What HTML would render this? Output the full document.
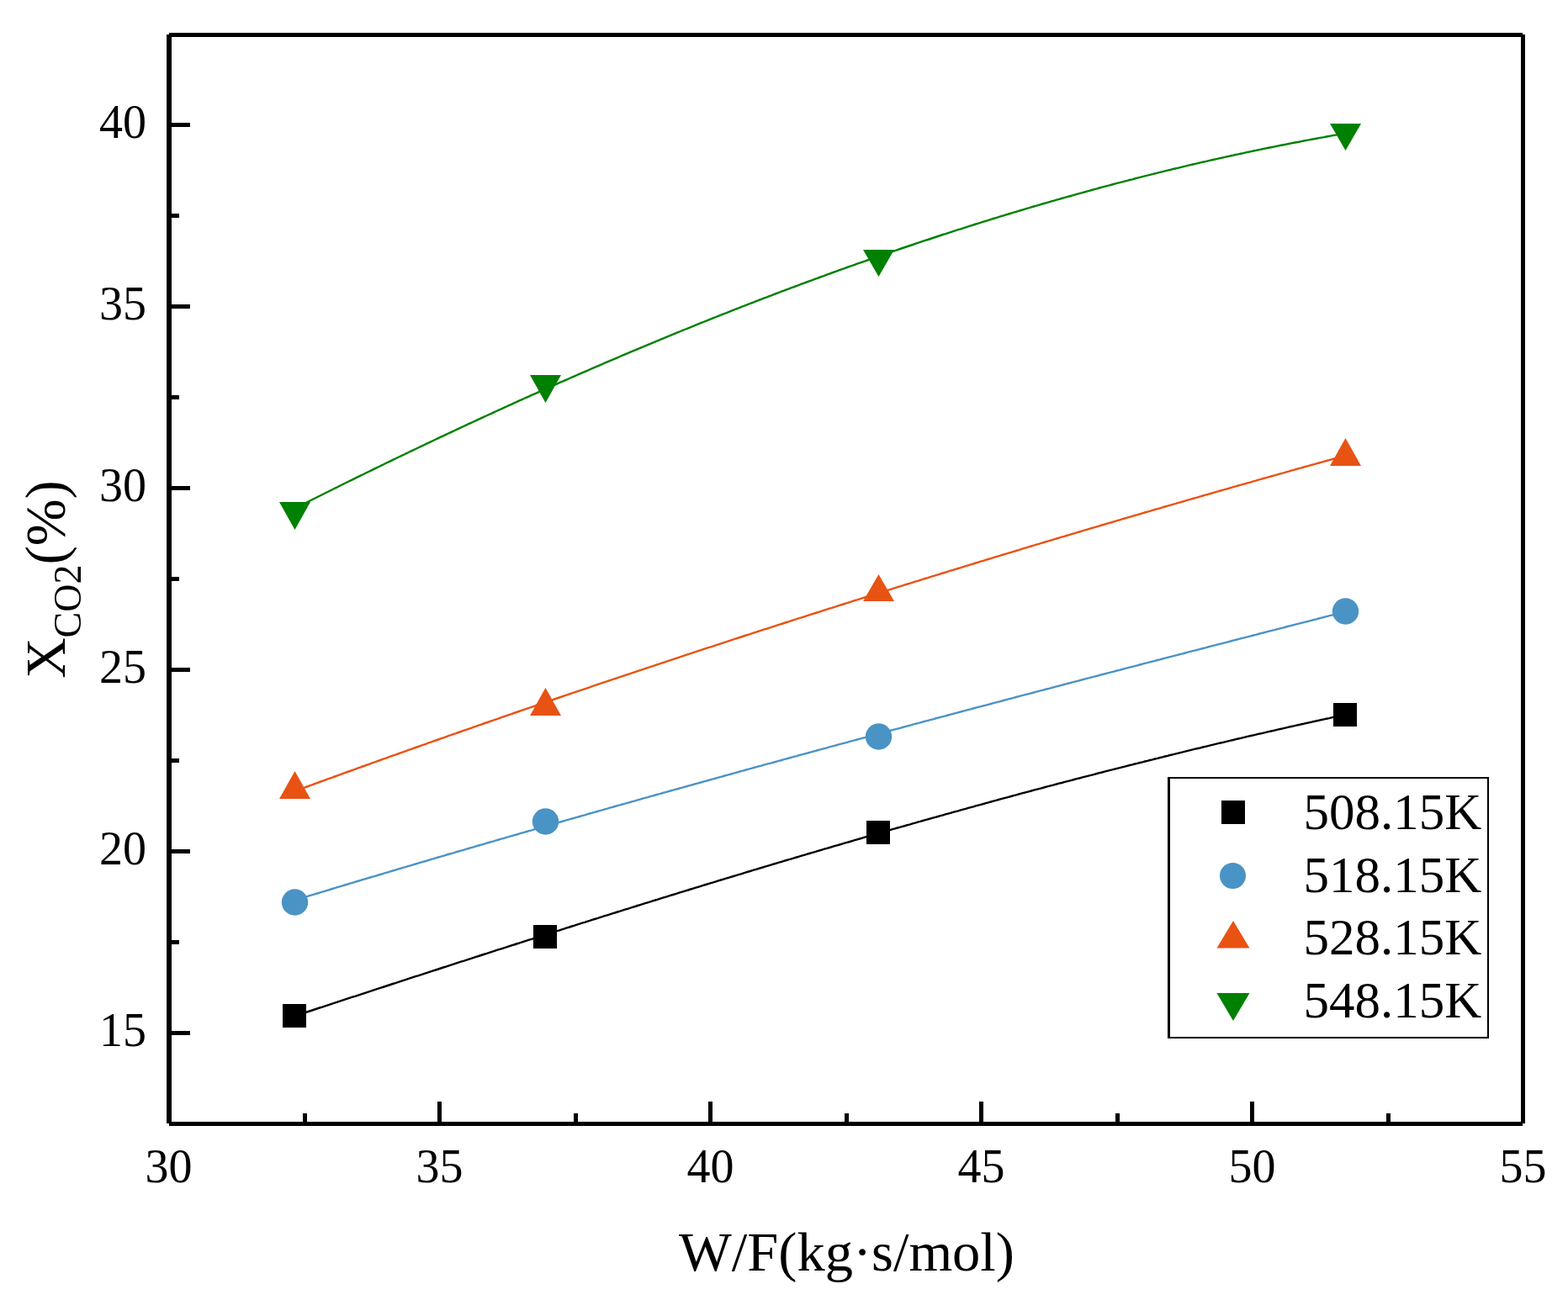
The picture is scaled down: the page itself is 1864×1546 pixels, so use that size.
<!DOCTYPE html>
<html><head><meta charset="utf-8"><title>XCO2 vs W/F</title>
<style>html,body{margin:0;padding:0;background:#fff;}svg{display:block;}
text{font-family:"Liberation Serif", "Times New Roman", serif;fill:#000;}</style></head>
<body>
<svg width="1864" height="1546" viewBox="0 0 1864 1546">
<rect x="0" y="0" width="1864" height="1546" fill="#fff"/>
<g fill="none" stroke-width="2.4" stroke-linejoin="round" stroke-linecap="round">
<path d="M350.0,1208.4 L353.0,1207.4 L356.0,1206.4 L359.0,1205.5 L362.0,1204.5 L365.0,1203.5 L368.0,1202.5 L371.0,1201.5 L374.0,1200.5 L377.0,1199.5 L380.0,1198.5 L383.0,1197.6 L386.0,1196.6 L389.0,1195.6 L392.0,1194.6 L395.0,1193.6 L398.0,1192.6 L401.0,1191.6 L404.0,1190.7 L407.0,1189.7 L410.0,1188.7 L413.0,1187.7 L416.0,1186.7 L419.0,1185.7 L422.0,1184.8 L425.0,1183.8 L428.0,1182.8 L431.0,1181.8 L434.0,1180.8 L437.0,1179.8 L440.0,1178.9 L443.0,1177.9 L446.0,1176.9 L449.0,1175.9 L452.0,1174.9 L455.0,1174.0 L458.0,1173.0 L461.0,1172.0 L464.0,1171.0 L467.0,1170.0 L470.0,1169.1 L473.0,1168.1 L476.0,1167.1 L479.0,1166.1 L482.0,1165.2 L485.0,1164.2 L488.0,1163.2 L491.0,1162.2 L494.0,1161.2 L497.0,1160.3 L500.0,1159.3 L503.0,1158.3 L506.0,1157.3 L509.0,1156.4 L512.0,1155.4 L515.0,1154.4 L518.0,1153.5 L521.0,1152.5 L524.0,1151.5 L527.0,1150.5 L530.0,1149.6 L533.0,1148.6 L536.0,1147.6 L539.0,1146.7 L542.0,1145.7 L545.0,1144.7 L548.0,1143.7 L551.0,1142.8 L554.0,1141.8 L557.0,1140.8 L560.0,1139.9 L563.0,1138.9 L566.0,1137.9 L569.0,1137.0 L572.0,1136.0 L575.0,1135.0 L578.0,1134.1 L581.0,1133.1 L584.0,1132.1 L587.0,1131.2 L590.0,1130.2 L593.0,1129.2 L596.0,1128.3 L599.0,1127.3 L602.0,1126.4 L605.0,1125.4 L608.0,1124.4 L611.0,1123.5 L614.0,1122.5 L617.0,1121.6 L620.0,1120.6 L623.0,1119.6 L626.0,1118.7 L629.0,1117.7 L632.0,1116.8 L635.0,1115.8 L638.0,1114.9 L641.0,1113.9 L644.0,1112.9 L647.0,1112.0 L650.0,1111.0 L653.0,1110.1 L656.0,1109.1 L659.0,1108.2 L662.0,1107.2 L665.0,1106.3 L668.0,1105.3 L671.0,1104.4 L674.0,1103.4 L677.0,1102.5 L680.0,1101.5 L683.0,1100.6 L686.0,1099.6 L689.0,1098.7 L692.0,1097.7 L695.0,1096.8 L698.0,1095.8 L701.0,1094.9 L704.0,1093.9 L707.0,1093.0 L710.0,1092.1 L713.0,1091.1 L716.0,1090.2 L719.0,1089.2 L722.0,1088.3 L725.0,1087.3 L728.0,1086.4 L731.0,1085.5 L734.0,1084.5 L737.0,1083.6 L740.0,1082.6 L743.0,1081.7 L746.0,1080.8 L749.0,1079.8 L752.0,1078.9 L755.0,1078.0 L758.0,1077.0 L761.0,1076.1 L764.0,1075.2 L767.0,1074.2 L770.0,1073.3 L773.0,1072.4 L776.0,1071.4 L779.0,1070.5 L782.0,1069.6 L785.0,1068.6 L788.0,1067.7 L791.0,1066.8 L794.0,1065.9 L797.0,1064.9 L800.0,1064.0 L803.0,1063.1 L806.0,1062.2 L809.0,1061.2 L812.0,1060.3 L815.0,1059.4 L818.0,1058.5 L821.0,1057.5 L824.0,1056.6 L827.0,1055.7 L830.0,1054.8 L833.0,1053.9 L836.0,1052.9 L839.0,1052.0 L842.0,1051.1 L845.0,1050.2 L848.0,1049.3 L851.0,1048.4 L854.0,1047.4 L857.0,1046.5 L860.0,1045.6 L863.0,1044.7 L866.0,1043.8 L869.0,1042.9 L872.0,1042.0 L875.0,1041.1 L878.0,1040.2 L881.0,1039.3 L884.0,1038.3 L887.0,1037.4 L890.0,1036.5 L893.0,1035.6 L896.0,1034.7 L899.0,1033.8 L902.0,1032.9 L905.0,1032.0 L908.0,1031.1 L911.0,1030.2 L914.0,1029.3 L917.0,1028.4 L920.0,1027.5 L923.0,1026.6 L926.0,1025.7 L929.0,1024.8 L932.0,1023.9 L935.0,1023.0 L938.0,1022.2 L941.0,1021.3 L944.0,1020.4 L947.0,1019.5 L950.0,1018.6 L953.0,1017.7 L956.0,1016.8 L959.0,1015.9 L962.0,1015.0 L965.0,1014.2 L968.0,1013.3 L971.0,1012.4 L974.0,1011.5 L977.0,1010.6 L980.0,1009.7 L983.0,1008.9 L986.0,1008.0 L989.0,1007.1 L992.0,1006.2 L995.0,1005.3 L998.0,1004.5 L1001.0,1003.6 L1004.0,1002.7 L1007.0,1001.8 L1010.0,1001.0 L1013.0,1000.1 L1016.0,999.2 L1019.0,998.3 L1022.0,997.5 L1025.0,996.6 L1028.0,995.7 L1031.0,994.9 L1034.0,994.0 L1037.0,993.1 L1040.0,992.3 L1043.0,991.4 L1046.0,990.5 L1049.0,989.7 L1052.0,988.8 L1055.0,988.0 L1058.0,987.1 L1061.0,986.2 L1064.0,985.4 L1067.0,984.5 L1070.0,983.7 L1073.0,982.8 L1076.0,982.0 L1079.0,981.1 L1082.0,980.3 L1085.0,979.4 L1088.0,978.6 L1091.0,977.7 L1094.0,976.9 L1097.0,976.0 L1100.0,975.2 L1103.0,974.3 L1106.0,973.5 L1109.0,972.6 L1112.0,971.8 L1115.0,971.0 L1118.0,970.1 L1121.0,969.3 L1124.0,968.4 L1127.0,967.6 L1130.0,966.8 L1133.0,965.9 L1136.0,965.1 L1139.0,964.3 L1142.0,963.4 L1145.0,962.6 L1148.0,961.8 L1151.0,960.9 L1154.0,960.1 L1157.0,959.3 L1160.0,958.4 L1163.0,957.6 L1166.0,956.8 L1169.0,956.0 L1172.0,955.1 L1175.0,954.3 L1178.0,953.5 L1181.0,952.7 L1184.0,951.9 L1187.0,951.0 L1190.0,950.2 L1193.0,949.4 L1196.0,948.6 L1199.0,947.8 L1202.0,947.0 L1205.0,946.2 L1208.0,945.4 L1211.0,944.5 L1214.0,943.7 L1217.0,942.9 L1220.0,942.1 L1223.0,941.3 L1226.0,940.5 L1229.0,939.7 L1232.0,938.9 L1235.0,938.1 L1238.0,937.3 L1241.0,936.5 L1244.0,935.7 L1247.0,934.9 L1250.0,934.1 L1253.0,933.3 L1256.0,932.5 L1259.0,931.7 L1262.0,931.0 L1265.0,930.2 L1268.0,929.4 L1271.0,928.6 L1274.0,927.8 L1277.0,927.0 L1280.0,926.2 L1283.0,925.5 L1286.0,924.7 L1289.0,923.9 L1292.0,923.1 L1295.0,922.3 L1298.0,921.6 L1301.0,920.8 L1304.0,920.0 L1307.0,919.2 L1310.0,918.5 L1313.0,917.7 L1316.0,916.9 L1319.0,916.1 L1322.0,915.4 L1325.0,914.6 L1328.0,913.8 L1331.0,913.1 L1334.0,912.3 L1337.0,911.6 L1340.0,910.8 L1343.0,910.0 L1346.0,909.3 L1349.0,908.5 L1352.0,907.8 L1355.0,907.0 L1358.0,906.3 L1361.0,905.5 L1364.0,904.8 L1367.0,904.0 L1370.0,903.3 L1373.0,902.5 L1376.0,901.8 L1379.0,901.0 L1382.0,900.3 L1385.0,899.5 L1388.0,898.8 L1391.0,898.0 L1394.0,897.3 L1397.0,896.6 L1400.0,895.8 L1403.0,895.1 L1406.0,894.4 L1409.0,893.6 L1412.0,892.9 L1415.0,892.2 L1418.0,891.4 L1421.0,890.7 L1424.0,890.0 L1427.0,889.3 L1430.0,888.5 L1433.0,887.8 L1436.0,887.1 L1439.0,886.4 L1442.0,885.7 L1445.0,884.9 L1448.0,884.2 L1451.0,883.5 L1454.0,882.8 L1457.0,882.1 L1460.0,881.4 L1463.0,880.7 L1466.0,880.0 L1469.0,879.2 L1472.0,878.5 L1475.0,877.8 L1478.0,877.1 L1481.0,876.4 L1484.0,875.7 L1487.0,875.0 L1490.0,874.3 L1493.0,873.6 L1496.0,872.9 L1499.0,872.3 L1502.0,871.6 L1505.0,870.9 L1508.0,870.2 L1511.0,869.5 L1514.0,868.8 L1517.0,868.1 L1520.0,867.4 L1523.0,866.8 L1526.0,866.1 L1529.0,865.4 L1532.0,864.7 L1535.0,864.0 L1538.0,863.4 L1541.0,862.7 L1544.0,862.0 L1547.0,861.3 L1550.0,860.7 L1553.0,860.0 L1556.0,859.3 L1559.0,858.7 L1562.0,858.0 L1565.0,857.3 L1568.0,856.7 L1571.0,856.0 L1574.0,855.4 L1577.0,854.7 L1580.0,854.1 L1583.0,853.4 L1586.0,852.7 L1589.0,852.1 L1592.0,851.4 L1595.0,850.8 L1598.0,850.1 L1599.0,849.9" stroke="#000"/>
<path d="M350.0,1070.7 L353.0,1069.8 L356.0,1068.9 L359.0,1067.9 L362.0,1067.0 L365.0,1066.1 L368.0,1065.2 L371.0,1064.3 L374.0,1063.4 L377.0,1062.5 L380.0,1061.6 L383.0,1060.7 L386.0,1059.8 L389.0,1058.9 L392.0,1058.0 L395.0,1057.0 L398.0,1056.1 L401.0,1055.2 L404.0,1054.3 L407.0,1053.4 L410.0,1052.5 L413.0,1051.6 L416.0,1050.7 L419.0,1049.8 L422.0,1048.9 L425.0,1048.0 L428.0,1047.1 L431.0,1046.2 L434.0,1045.3 L437.0,1044.4 L440.0,1043.5 L443.0,1042.6 L446.0,1041.8 L449.0,1040.9 L452.0,1040.0 L455.0,1039.1 L458.0,1038.2 L461.0,1037.3 L464.0,1036.4 L467.0,1035.5 L470.0,1034.6 L473.0,1033.7 L476.0,1032.8 L479.0,1031.9 L482.0,1031.1 L485.0,1030.2 L488.0,1029.3 L491.0,1028.4 L494.0,1027.5 L497.0,1026.6 L500.0,1025.7 L503.0,1024.8 L506.0,1024.0 L509.0,1023.1 L512.0,1022.2 L515.0,1021.3 L518.0,1020.4 L521.0,1019.5 L524.0,1018.7 L527.0,1017.8 L530.0,1016.9 L533.0,1016.0 L536.0,1015.1 L539.0,1014.3 L542.0,1013.4 L545.0,1012.5 L548.0,1011.6 L551.0,1010.8 L554.0,1009.9 L557.0,1009.0 L560.0,1008.1 L563.0,1007.3 L566.0,1006.4 L569.0,1005.5 L572.0,1004.6 L575.0,1003.8 L578.0,1002.9 L581.0,1002.0 L584.0,1001.1 L587.0,1000.3 L590.0,999.4 L593.0,998.5 L596.0,997.7 L599.0,996.8 L602.0,995.9 L605.0,995.1 L608.0,994.2 L611.0,993.3 L614.0,992.5 L617.0,991.6 L620.0,990.7 L623.0,989.9 L626.0,989.0 L629.0,988.1 L632.0,987.3 L635.0,986.4 L638.0,985.5 L641.0,984.7 L644.0,983.8 L647.0,983.0 L650.0,982.1 L653.0,981.2 L656.0,980.4 L659.0,979.5 L662.0,978.7 L665.0,977.8 L668.0,977.0 L671.0,976.1 L674.0,975.2 L677.0,974.4 L680.0,973.5 L683.0,972.7 L686.0,971.8 L689.0,971.0 L692.0,970.1 L695.0,969.3 L698.0,968.4 L701.0,967.5 L704.0,966.7 L707.0,965.8 L710.0,965.0 L713.0,964.1 L716.0,963.3 L719.0,962.4 L722.0,961.6 L725.0,960.7 L728.0,959.9 L731.0,959.0 L734.0,958.2 L737.0,957.4 L740.0,956.5 L743.0,955.7 L746.0,954.8 L749.0,954.0 L752.0,953.1 L755.0,952.3 L758.0,951.4 L761.0,950.6 L764.0,949.7 L767.0,948.9 L770.0,948.1 L773.0,947.2 L776.0,946.4 L779.0,945.5 L782.0,944.7 L785.0,943.9 L788.0,943.0 L791.0,942.2 L794.0,941.3 L797.0,940.5 L800.0,939.7 L803.0,938.8 L806.0,938.0 L809.0,937.1 L812.0,936.3 L815.0,935.5 L818.0,934.6 L821.0,933.8 L824.0,933.0 L827.0,932.1 L830.0,931.3 L833.0,930.5 L836.0,929.6 L839.0,928.8 L842.0,928.0 L845.0,927.1 L848.0,926.3 L851.0,925.5 L854.0,924.6 L857.0,923.8 L860.0,923.0 L863.0,922.1 L866.0,921.3 L869.0,920.5 L872.0,919.7 L875.0,918.8 L878.0,918.0 L881.0,917.2 L884.0,916.4 L887.0,915.5 L890.0,914.7 L893.0,913.9 L896.0,913.0 L899.0,912.2 L902.0,911.4 L905.0,910.6 L908.0,909.7 L911.0,908.9 L914.0,908.1 L917.0,907.3 L920.0,906.5 L923.0,905.6 L926.0,904.8 L929.0,904.0 L932.0,903.2 L935.0,902.3 L938.0,901.5 L941.0,900.7 L944.0,899.9 L947.0,899.1 L950.0,898.2 L953.0,897.4 L956.0,896.6 L959.0,895.8 L962.0,895.0 L965.0,894.2 L968.0,893.3 L971.0,892.5 L974.0,891.7 L977.0,890.9 L980.0,890.1 L983.0,889.3 L986.0,888.4 L989.0,887.6 L992.0,886.8 L995.0,886.0 L998.0,885.2 L1001.0,884.4 L1004.0,883.6 L1007.0,882.8 L1010.0,881.9 L1013.0,881.1 L1016.0,880.3 L1019.0,879.5 L1022.0,878.7 L1025.0,877.9 L1028.0,877.1 L1031.0,876.3 L1034.0,875.5 L1037.0,874.6 L1040.0,873.8 L1043.0,873.0 L1046.0,872.2 L1049.0,871.4 L1052.0,870.6 L1055.0,869.8 L1058.0,869.0 L1061.0,868.2 L1064.0,867.4 L1067.0,866.6 L1070.0,865.8 L1073.0,865.0 L1076.0,864.2 L1079.0,863.4 L1082.0,862.6 L1085.0,861.7 L1088.0,860.9 L1091.0,860.1 L1094.0,859.3 L1097.0,858.5 L1100.0,857.7 L1103.0,856.9 L1106.0,856.1 L1109.0,855.3 L1112.0,854.5 L1115.0,853.7 L1118.0,852.9 L1121.0,852.1 L1124.0,851.3 L1127.0,850.5 L1130.0,849.7 L1133.0,848.9 L1136.0,848.1 L1139.0,847.3 L1142.0,846.5 L1145.0,845.7 L1148.0,844.9 L1151.0,844.1 L1154.0,843.3 L1157.0,842.5 L1160.0,841.7 L1163.0,840.9 L1166.0,840.2 L1169.0,839.4 L1172.0,838.6 L1175.0,837.8 L1178.0,837.0 L1181.0,836.2 L1184.0,835.4 L1187.0,834.6 L1190.0,833.8 L1193.0,833.0 L1196.0,832.2 L1199.0,831.4 L1202.0,830.6 L1205.0,829.8 L1208.0,829.0 L1211.0,828.2 L1214.0,827.4 L1217.0,826.7 L1220.0,825.9 L1223.0,825.1 L1226.0,824.3 L1229.0,823.5 L1232.0,822.7 L1235.0,821.9 L1238.0,821.1 L1241.0,820.3 L1244.0,819.5 L1247.0,818.8 L1250.0,818.0 L1253.0,817.2 L1256.0,816.4 L1259.0,815.6 L1262.0,814.8 L1265.0,814.0 L1268.0,813.2 L1271.0,812.5 L1274.0,811.7 L1277.0,810.9 L1280.0,810.1 L1283.0,809.3 L1286.0,808.5 L1289.0,807.7 L1292.0,806.9 L1295.0,806.2 L1298.0,805.4 L1301.0,804.6 L1304.0,803.8 L1307.0,803.0 L1310.0,802.2 L1313.0,801.5 L1316.0,800.7 L1319.0,799.9 L1322.0,799.1 L1325.0,798.3 L1328.0,797.5 L1331.0,796.8 L1334.0,796.0 L1337.0,795.2 L1340.0,794.4 L1343.0,793.6 L1346.0,792.8 L1349.0,792.1 L1352.0,791.3 L1355.0,790.5 L1358.0,789.7 L1361.0,788.9 L1364.0,788.2 L1367.0,787.4 L1370.0,786.6 L1373.0,785.8 L1376.0,785.0 L1379.0,784.3 L1382.0,783.5 L1385.0,782.7 L1388.0,781.9 L1391.0,781.1 L1394.0,780.4 L1397.0,779.6 L1400.0,778.8 L1403.0,778.0 L1406.0,777.3 L1409.0,776.5 L1412.0,775.7 L1415.0,774.9 L1418.0,774.1 L1421.0,773.4 L1424.0,772.6 L1427.0,771.8 L1430.0,771.0 L1433.0,770.3 L1436.0,769.5 L1439.0,768.7 L1442.0,767.9 L1445.0,767.2 L1448.0,766.4 L1451.0,765.6 L1454.0,764.8 L1457.0,764.1 L1460.0,763.3 L1463.0,762.5 L1466.0,761.7 L1469.0,761.0 L1472.0,760.2 L1475.0,759.4 L1478.0,758.6 L1481.0,757.9 L1484.0,757.1 L1487.0,756.3 L1490.0,755.5 L1493.0,754.8 L1496.0,754.0 L1499.0,753.2 L1502.0,752.5 L1505.0,751.7 L1508.0,750.9 L1511.0,750.1 L1514.0,749.4 L1517.0,748.6 L1520.0,747.8 L1523.0,747.1 L1526.0,746.3 L1529.0,745.5 L1532.0,744.7 L1535.0,744.0 L1538.0,743.2 L1541.0,742.4 L1544.0,741.7 L1547.0,740.9 L1550.0,740.1 L1553.0,739.3 L1556.0,738.6 L1559.0,737.8 L1562.0,737.0 L1565.0,736.3 L1568.0,735.5 L1571.0,734.7 L1574.0,734.0 L1577.0,733.2 L1580.0,732.4 L1583.0,731.7 L1586.0,730.9 L1589.0,730.1 L1592.0,729.3 L1595.0,728.6 L1598.0,727.8 L1599.0,727.6" stroke="#4a93c5"/>
<path d="M350.0,941.0 L353.0,939.9 L356.0,938.8 L359.0,937.7 L362.0,936.6 L365.0,935.5 L368.0,934.4 L371.0,933.3 L374.0,932.2 L377.0,931.1 L380.0,930.0 L383.0,928.9 L386.0,927.8 L389.0,926.7 L392.0,925.6 L395.0,924.6 L398.0,923.5 L401.0,922.4 L404.0,921.3 L407.0,920.2 L410.0,919.1 L413.0,918.0 L416.0,917.0 L419.0,915.9 L422.0,914.8 L425.0,913.7 L428.0,912.6 L431.0,911.5 L434.0,910.5 L437.0,909.4 L440.0,908.3 L443.0,907.2 L446.0,906.2 L449.0,905.1 L452.0,904.0 L455.0,902.9 L458.0,901.9 L461.0,900.8 L464.0,899.7 L467.0,898.6 L470.0,897.6 L473.0,896.5 L476.0,895.4 L479.0,894.4 L482.0,893.3 L485.0,892.2 L488.0,891.2 L491.0,890.1 L494.0,889.0 L497.0,888.0 L500.0,886.9 L503.0,885.8 L506.0,884.8 L509.0,883.7 L512.0,882.7 L515.0,881.6 L518.0,880.5 L521.0,879.5 L524.0,878.4 L527.0,877.4 L530.0,876.3 L533.0,875.2 L536.0,874.2 L539.0,873.1 L542.0,872.1 L545.0,871.0 L548.0,870.0 L551.0,868.9 L554.0,867.9 L557.0,866.8 L560.0,865.8 L563.0,864.7 L566.0,863.7 L569.0,862.6 L572.0,861.6 L575.0,860.5 L578.0,859.5 L581.0,858.5 L584.0,857.4 L587.0,856.4 L590.0,855.3 L593.0,854.3 L596.0,853.2 L599.0,852.2 L602.0,851.2 L605.0,850.1 L608.0,849.1 L611.0,848.0 L614.0,847.0 L617.0,846.0 L620.0,844.9 L623.0,843.9 L626.0,842.9 L629.0,841.8 L632.0,840.8 L635.0,839.8 L638.0,838.7 L641.0,837.7 L644.0,836.7 L647.0,835.7 L650.0,834.6 L653.0,833.6 L656.0,832.6 L659.0,831.5 L662.0,830.5 L665.0,829.5 L668.0,828.5 L671.0,827.4 L674.0,826.4 L677.0,825.4 L680.0,824.4 L683.0,823.4 L686.0,822.3 L689.0,821.3 L692.0,820.3 L695.0,819.3 L698.0,818.3 L701.0,817.3 L704.0,816.2 L707.0,815.2 L710.0,814.2 L713.0,813.2 L716.0,812.2 L719.0,811.2 L722.0,810.2 L725.0,809.1 L728.0,808.1 L731.0,807.1 L734.0,806.1 L737.0,805.1 L740.0,804.1 L743.0,803.1 L746.0,802.1 L749.0,801.1 L752.0,800.1 L755.0,799.1 L758.0,798.1 L761.0,797.1 L764.0,796.1 L767.0,795.1 L770.0,794.1 L773.0,793.1 L776.0,792.1 L779.0,791.1 L782.0,790.1 L785.0,789.1 L788.0,788.1 L791.0,787.1 L794.0,786.1 L797.0,785.1 L800.0,784.1 L803.0,783.1 L806.0,782.1 L809.0,781.1 L812.0,780.1 L815.0,779.1 L818.0,778.1 L821.0,777.1 L824.0,776.2 L827.0,775.2 L830.0,774.2 L833.0,773.2 L836.0,772.2 L839.0,771.2 L842.0,770.2 L845.0,769.3 L848.0,768.3 L851.0,767.3 L854.0,766.3 L857.0,765.3 L860.0,764.3 L863.0,763.4 L866.0,762.4 L869.0,761.4 L872.0,760.4 L875.0,759.4 L878.0,758.5 L881.0,757.5 L884.0,756.5 L887.0,755.5 L890.0,754.6 L893.0,753.6 L896.0,752.6 L899.0,751.7 L902.0,750.7 L905.0,749.7 L908.0,748.7 L911.0,747.8 L914.0,746.8 L917.0,745.8 L920.0,744.9 L923.0,743.9 L926.0,742.9 L929.0,742.0 L932.0,741.0 L935.0,740.0 L938.0,739.1 L941.0,738.1 L944.0,737.1 L947.0,736.2 L950.0,735.2 L953.0,734.3 L956.0,733.3 L959.0,732.3 L962.0,731.4 L965.0,730.4 L968.0,729.5 L971.0,728.5 L974.0,727.6 L977.0,726.6 L980.0,725.6 L983.0,724.7 L986.0,723.7 L989.0,722.8 L992.0,721.8 L995.0,720.9 L998.0,719.9 L1001.0,719.0 L1004.0,718.0 L1007.0,717.1 L1010.0,716.1 L1013.0,715.2 L1016.0,714.2 L1019.0,713.3 L1022.0,712.4 L1025.0,711.4 L1028.0,710.5 L1031.0,709.5 L1034.0,708.6 L1037.0,707.6 L1040.0,706.7 L1043.0,705.8 L1046.0,704.8 L1049.0,703.9 L1052.0,702.9 L1055.0,702.0 L1058.0,701.1 L1061.0,700.1 L1064.0,699.2 L1067.0,698.2 L1070.0,697.3 L1073.0,696.4 L1076.0,695.4 L1079.0,694.5 L1082.0,693.6 L1085.0,692.6 L1088.0,691.7 L1091.0,690.8 L1094.0,689.8 L1097.0,688.9 L1100.0,688.0 L1103.0,687.1 L1106.0,686.1 L1109.0,685.2 L1112.0,684.3 L1115.0,683.4 L1118.0,682.4 L1121.0,681.5 L1124.0,680.6 L1127.0,679.7 L1130.0,678.7 L1133.0,677.8 L1136.0,676.9 L1139.0,676.0 L1142.0,675.1 L1145.0,674.1 L1148.0,673.2 L1151.0,672.3 L1154.0,671.4 L1157.0,670.5 L1160.0,669.5 L1163.0,668.6 L1166.0,667.7 L1169.0,666.8 L1172.0,665.9 L1175.0,665.0 L1178.0,664.1 L1181.0,663.1 L1184.0,662.2 L1187.0,661.3 L1190.0,660.4 L1193.0,659.5 L1196.0,658.6 L1199.0,657.7 L1202.0,656.8 L1205.0,655.9 L1208.0,655.0 L1211.0,654.1 L1214.0,653.1 L1217.0,652.2 L1220.0,651.3 L1223.0,650.4 L1226.0,649.5 L1229.0,648.6 L1232.0,647.7 L1235.0,646.8 L1238.0,645.9 L1241.0,645.0 L1244.0,644.1 L1247.0,643.2 L1250.0,642.3 L1253.0,641.4 L1256.0,640.5 L1259.0,639.6 L1262.0,638.7 L1265.0,637.9 L1268.0,637.0 L1271.0,636.1 L1274.0,635.2 L1277.0,634.3 L1280.0,633.4 L1283.0,632.5 L1286.0,631.6 L1289.0,630.7 L1292.0,629.8 L1295.0,628.9 L1298.0,628.0 L1301.0,627.2 L1304.0,626.3 L1307.0,625.4 L1310.0,624.5 L1313.0,623.6 L1316.0,622.7 L1319.0,621.8 L1322.0,621.0 L1325.0,620.1 L1328.0,619.2 L1331.0,618.3 L1334.0,617.4 L1337.0,616.5 L1340.0,615.7 L1343.0,614.8 L1346.0,613.9 L1349.0,613.0 L1352.0,612.2 L1355.0,611.3 L1358.0,610.4 L1361.0,609.5 L1364.0,608.7 L1367.0,607.8 L1370.0,606.9 L1373.0,606.0 L1376.0,605.2 L1379.0,604.3 L1382.0,603.4 L1385.0,602.5 L1388.0,601.7 L1391.0,600.8 L1394.0,599.9 L1397.0,599.1 L1400.0,598.2 L1403.0,597.3 L1406.0,596.5 L1409.0,595.6 L1412.0,594.7 L1415.0,593.9 L1418.0,593.0 L1421.0,592.1 L1424.0,591.3 L1427.0,590.4 L1430.0,589.5 L1433.0,588.7 L1436.0,587.8 L1439.0,587.0 L1442.0,586.1 L1445.0,585.2 L1448.0,584.4 L1451.0,583.5 L1454.0,582.7 L1457.0,581.8 L1460.0,581.0 L1463.0,580.1 L1466.0,579.2 L1469.0,578.4 L1472.0,577.5 L1475.0,576.7 L1478.0,575.8 L1481.0,575.0 L1484.0,574.1 L1487.0,573.3 L1490.0,572.4 L1493.0,571.6 L1496.0,570.7 L1499.0,569.9 L1502.0,569.0 L1505.0,568.2 L1508.0,567.3 L1511.0,566.5 L1514.0,565.6 L1517.0,564.8 L1520.0,563.9 L1523.0,563.1 L1526.0,562.3 L1529.0,561.4 L1532.0,560.6 L1535.0,559.7 L1538.0,558.9 L1541.0,558.0 L1544.0,557.2 L1547.0,556.4 L1550.0,555.5 L1553.0,554.7 L1556.0,553.8 L1559.0,553.0 L1562.0,552.2 L1565.0,551.3 L1568.0,550.5 L1571.0,549.7 L1574.0,548.8 L1577.0,548.0 L1580.0,547.2 L1583.0,546.3 L1586.0,545.5 L1589.0,544.7 L1592.0,543.8 L1595.0,543.0 L1598.0,542.2 L1599.0,541.9" stroke="#e85314"/>
<path d="M350.0,604.8 L353.0,603.3 L356.0,601.8 L359.0,600.2 L362.0,598.7 L365.0,597.2 L368.0,595.7 L371.0,594.2 L374.0,592.7 L377.0,591.2 L380.0,589.7 L383.0,588.2 L386.0,586.7 L389.0,585.2 L392.0,583.7 L395.0,582.2 L398.0,580.7 L401.0,579.3 L404.0,577.8 L407.0,576.3 L410.0,574.8 L413.0,573.3 L416.0,571.8 L419.0,570.4 L422.0,568.9 L425.0,567.4 L428.0,565.9 L431.0,564.5 L434.0,563.0 L437.0,561.5 L440.0,560.1 L443.0,558.6 L446.0,557.1 L449.0,555.7 L452.0,554.2 L455.0,552.8 L458.0,551.3 L461.0,549.8 L464.0,548.4 L467.0,546.9 L470.0,545.5 L473.0,544.0 L476.0,542.6 L479.0,541.2 L482.0,539.7 L485.0,538.3 L488.0,536.8 L491.0,535.4 L494.0,534.0 L497.0,532.5 L500.0,531.1 L503.0,529.7 L506.0,528.2 L509.0,526.8 L512.0,525.4 L515.0,524.0 L518.0,522.5 L521.0,521.1 L524.0,519.7 L527.0,518.3 L530.0,516.9 L533.0,515.5 L536.0,514.1 L539.0,512.7 L542.0,511.2 L545.0,509.8 L548.0,508.4 L551.0,507.0 L554.0,505.6 L557.0,504.2 L560.0,502.9 L563.0,501.5 L566.0,500.1 L569.0,498.7 L572.0,497.3 L575.0,495.9 L578.0,494.5 L581.0,493.1 L584.0,491.8 L587.0,490.4 L590.0,489.0 L593.0,487.6 L596.0,486.3 L599.0,484.9 L602.0,483.5 L605.0,482.2 L608.0,480.8 L611.0,479.4 L614.0,478.1 L617.0,476.7 L620.0,475.4 L623.0,474.0 L626.0,472.6 L629.0,471.3 L632.0,469.9 L635.0,468.6 L638.0,467.3 L641.0,465.9 L644.0,464.6 L647.0,463.2 L650.0,461.9 L653.0,460.6 L656.0,459.2 L659.0,457.9 L662.0,456.6 L665.0,455.2 L668.0,453.9 L671.0,452.6 L674.0,451.3 L677.0,450.0 L680.0,448.6 L683.0,447.3 L686.0,446.0 L689.0,444.7 L692.0,443.4 L695.0,442.1 L698.0,440.8 L701.0,439.5 L704.0,438.2 L707.0,436.9 L710.0,435.6 L713.0,434.3 L716.0,433.0 L719.0,431.7 L722.0,430.4 L725.0,429.1 L728.0,427.8 L731.0,426.6 L734.0,425.3 L737.0,424.0 L740.0,422.7 L743.0,421.4 L746.0,420.2 L749.0,418.9 L752.0,417.6 L755.0,416.4 L758.0,415.1 L761.0,413.8 L764.0,412.6 L767.0,411.3 L770.0,410.1 L773.0,408.8 L776.0,407.6 L779.0,406.3 L782.0,405.1 L785.0,403.8 L788.0,402.6 L791.0,401.4 L794.0,400.1 L797.0,398.9 L800.0,397.6 L803.0,396.4 L806.0,395.2 L809.0,394.0 L812.0,392.7 L815.0,391.5 L818.0,390.3 L821.0,389.1 L824.0,387.9 L827.0,386.6 L830.0,385.4 L833.0,384.2 L836.0,383.0 L839.0,381.8 L842.0,380.6 L845.0,379.4 L848.0,378.2 L851.0,377.0 L854.0,375.8 L857.0,374.6 L860.0,373.4 L863.0,372.3 L866.0,371.1 L869.0,369.9 L872.0,368.7 L875.0,367.5 L878.0,366.4 L881.0,365.2 L884.0,364.0 L887.0,362.8 L890.0,361.7 L893.0,360.5 L896.0,359.4 L899.0,358.2 L902.0,357.0 L905.0,355.9 L908.0,354.7 L911.0,353.6 L914.0,352.4 L917.0,351.3 L920.0,350.1 L923.0,349.0 L926.0,347.9 L929.0,346.7 L932.0,345.6 L935.0,344.5 L938.0,343.3 L941.0,342.2 L944.0,341.1 L947.0,340.0 L950.0,338.8 L953.0,337.7 L956.0,336.6 L959.0,335.5 L962.0,334.4 L965.0,333.3 L968.0,332.2 L971.0,331.1 L974.0,330.0 L977.0,328.9 L980.0,327.8 L983.0,326.7 L986.0,325.6 L989.0,324.5 L992.0,323.4 L995.0,322.3 L998.0,321.2 L1001.0,320.2 L1004.0,319.1 L1007.0,318.0 L1010.0,316.9 L1013.0,315.9 L1016.0,314.8 L1019.0,313.7 L1022.0,312.7 L1025.0,311.6 L1028.0,310.6 L1031.0,309.5 L1034.0,308.5 L1037.0,307.4 L1040.0,306.4 L1043.0,305.3 L1046.0,304.3 L1049.0,303.2 L1052.0,302.2 L1055.0,301.2 L1058.0,300.1 L1061.0,299.1 L1064.0,298.1 L1067.0,297.1 L1070.0,296.0 L1073.0,295.0 L1076.0,294.0 L1079.0,293.0 L1082.0,292.0 L1085.0,291.0 L1088.0,289.9 L1091.0,288.9 L1094.0,287.9 L1097.0,286.9 L1100.0,285.9 L1103.0,285.0 L1106.0,284.0 L1109.0,283.0 L1112.0,282.0 L1115.0,281.0 L1118.0,280.0 L1121.0,279.0 L1124.0,278.1 L1127.0,277.1 L1130.0,276.1 L1133.0,275.1 L1136.0,274.2 L1139.0,273.2 L1142.0,272.3 L1145.0,271.3 L1148.0,270.3 L1151.0,269.4 L1154.0,268.4 L1157.0,267.5 L1160.0,266.5 L1163.0,265.6 L1166.0,264.7 L1169.0,263.7 L1172.0,262.8 L1175.0,261.9 L1178.0,260.9 L1181.0,260.0 L1184.0,259.1 L1187.0,258.2 L1190.0,257.2 L1193.0,256.3 L1196.0,255.4 L1199.0,254.5 L1202.0,253.6 L1205.0,252.7 L1208.0,251.8 L1211.0,250.9 L1214.0,250.0 L1217.0,249.1 L1220.0,248.2 L1223.0,247.3 L1226.0,246.4 L1229.0,245.5 L1232.0,244.7 L1235.0,243.8 L1238.0,242.9 L1241.0,242.0 L1244.0,241.2 L1247.0,240.3 L1250.0,239.4 L1253.0,238.6 L1256.0,237.7 L1259.0,236.9 L1262.0,236.0 L1265.0,235.2 L1268.0,234.3 L1271.0,233.5 L1274.0,232.6 L1277.0,231.8 L1280.0,230.9 L1283.0,230.1 L1286.0,229.3 L1289.0,228.5 L1292.0,227.6 L1295.0,226.8 L1298.0,226.0 L1301.0,225.2 L1304.0,224.4 L1307.0,223.5 L1310.0,222.7 L1313.0,221.9 L1316.0,221.1 L1319.0,220.3 L1322.0,219.5 L1325.0,218.7 L1328.0,217.9 L1331.0,217.2 L1334.0,216.4 L1337.0,215.6 L1340.0,214.8 L1343.0,214.0 L1346.0,213.3 L1349.0,212.5 L1352.0,211.7 L1355.0,210.9 L1358.0,210.2 L1361.0,209.4 L1364.0,208.7 L1367.0,207.9 L1370.0,207.2 L1373.0,206.4 L1376.0,205.7 L1379.0,204.9 L1382.0,204.2 L1385.0,203.4 L1388.0,202.7 L1391.0,202.0 L1394.0,201.2 L1397.0,200.5 L1400.0,199.8 L1403.0,199.1 L1406.0,198.4 L1409.0,197.7 L1412.0,196.9 L1415.0,196.2 L1418.0,195.5 L1421.0,194.8 L1424.0,194.1 L1427.0,193.4 L1430.0,192.7 L1433.0,192.1 L1436.0,191.4 L1439.0,190.7 L1442.0,190.0 L1445.0,189.3 L1448.0,188.6 L1451.0,188.0 L1454.0,187.3 L1457.0,186.6 L1460.0,186.0 L1463.0,185.3 L1466.0,184.7 L1469.0,184.0 L1472.0,183.4 L1475.0,182.7 L1478.0,182.1 L1481.0,181.4 L1484.0,180.8 L1487.0,180.1 L1490.0,179.5 L1493.0,178.9 L1496.0,178.3 L1499.0,177.6 L1502.0,177.0 L1505.0,176.4 L1508.0,175.8 L1511.0,175.2 L1514.0,174.6 L1517.0,174.0 L1520.0,173.4 L1523.0,172.8 L1526.0,172.2 L1529.0,171.6 L1532.0,171.0 L1535.0,170.4 L1538.0,169.8 L1541.0,169.2 L1544.0,168.7 L1547.0,168.1 L1550.0,167.5 L1553.0,166.9 L1556.0,166.4 L1559.0,165.8 L1562.0,165.3 L1565.0,164.7 L1568.0,164.1 L1571.0,163.6 L1574.0,163.1 L1577.0,162.5 L1580.0,162.0 L1583.0,161.4 L1586.0,160.9 L1589.0,160.4 L1592.0,159.8 L1595.0,159.3 L1598.0,158.8 L1599.0,158.6" stroke="#008000"/>
</g>
<g shape-rendering="crispEdges">
<rect x="336" y="1194" width="28" height="28" fill="#000"/>
<rect x="634" y="1100" width="28" height="28" fill="#000"/>
<rect x="1030" y="976" width="28" height="28" fill="#000"/>
<rect x="1585" y="836" width="28" height="28" fill="#000"/>
</g><g>
<circle cx="350.5" cy="1073" r="15.7" fill="#4a93c5"/>
<circle cx="648.5" cy="977" r="15.7" fill="#4a93c5"/>
<circle cx="1044.5" cy="876" r="15.7" fill="#4a93c5"/>
<circle cx="1599.5" cy="727" r="15.7" fill="#4a93c5"/>
<polygon points="350.5,917 369,950 332,950" fill="#e85314"/>
<polygon points="648.5,818 667,851 630,851" fill="#e85314"/>
<polygon points="1044.5,683 1063,715 1026,715" fill="#e85314"/>
<polygon points="1599.5,521 1618,554 1581,554" fill="#e85314"/>
<polygon points="332,597 369,597 350.5,630" fill="#008000"/>
<polygon points="630,446 667,446 648.5,479" fill="#008000"/>
<polygon points="1026,297 1063,297 1044.5,329" fill="#008000"/>
<polygon points="1581,147 1618,147 1599.5,179" fill="#008000"/>
</g>
<g fill="#000" shape-rendering="crispEdges">
<rect x="198" y="41" width="6" height="1295"/>
<rect x="1808" y="41" width="5" height="1295"/>
<rect x="201" y="39" width="1609" height="5"/>
<rect x="201" y="1334" width="1609" height="5"/>
<rect x="520.0" y="1310" width="5" height="24"/>
<rect x="842.0" y="1310" width="5" height="24"/>
<rect x="1164.0" y="1310" width="5" height="24"/>
<rect x="1486.0" y="1310" width="5" height="24"/>
<rect x="360.0" y="1324" width="5" height="10"/>
<rect x="682.0" y="1324" width="5" height="10"/>
<rect x="1004.0" y="1324" width="5" height="10"/>
<rect x="1326.0" y="1324" width="5" height="10"/>
<rect x="1648.0" y="1324" width="5" height="10"/>
<rect x="204" y="1226.0" width="22" height="5"/>
<rect x="204" y="1010.0" width="22" height="5"/>
<rect x="204" y="794.0" width="22" height="5"/>
<rect x="204" y="578.0" width="22" height="5"/>
<rect x="204" y="362.0" width="22" height="5"/>
<rect x="204" y="146.0" width="22" height="5"/>
<rect x="204" y="1118.0" width="9" height="5"/>
<rect x="204" y="902.0" width="9" height="5"/>
<rect x="204" y="686.0" width="9" height="5"/>
<rect x="204" y="470.0" width="9" height="5"/>
<rect x="204" y="254.0" width="9" height="5"/>
</g>
<g font-size="56">
<text x="200.5" y="1405.5" text-anchor="middle">30</text>
<text x="522.5" y="1405.5" text-anchor="middle">35</text>
<text x="844.5" y="1405.5" text-anchor="middle">40</text>
<text x="1166.5" y="1405.5" text-anchor="middle">45</text>
<text x="1488.5" y="1405.5" text-anchor="middle">50</text>
<text x="1810.5" y="1405.5" text-anchor="middle">55</text>
<text x="174" y="1243.5" text-anchor="end">15</text>
<text x="174" y="1027.5" text-anchor="end">20</text>
<text x="174" y="811.5" text-anchor="end">25</text>
<text x="174" y="595.5" text-anchor="end">30</text>
<text x="174" y="379.5" text-anchor="end">35</text>
<text x="174" y="163.5" text-anchor="end">40</text>
</g>
<text x="1006.5" y="1511" font-size="66.5" text-anchor="middle">W/F(kg·s/mol)</text>
<text transform="translate(76.5,689) rotate(-90)" font-size="67" text-anchor="middle">X<tspan font-size="46" dy="19">CO2</tspan><tspan dy="-19">(%)</tspan></text>
<g fill="#000" shape-rendering="crispEdges">
<rect x="1388" y="924" width="3" height="311"/>
<rect x="1388" y="924" width="382" height="2"/>
<rect x="1768" y="924" width="2" height="311"/>
<rect x="1388" y="1233" width="382" height="2"/>
<rect x="1452" y="952" width="28" height="28"/>
</g>
<circle cx="1465.5" cy="1041.5" r="15.5" fill="#4a93c5"/>
<polygon points="1466,1095 1485.5,1127.5 1446.5,1127.5" fill="#e85314"/>
<polygon points="1446.5,1181 1485.5,1181 1466,1214" fill="#008000"/>
<g font-size="61">
<text x="1549.5" y="986.2">508.15K</text>
<text x="1549.5" y="1060.8">518.15K</text>
<text x="1549.5" y="1135.4">528.15K</text>
<text x="1549.5" y="1210.0">548.15K</text>
</g>
</svg>
</body></html>
